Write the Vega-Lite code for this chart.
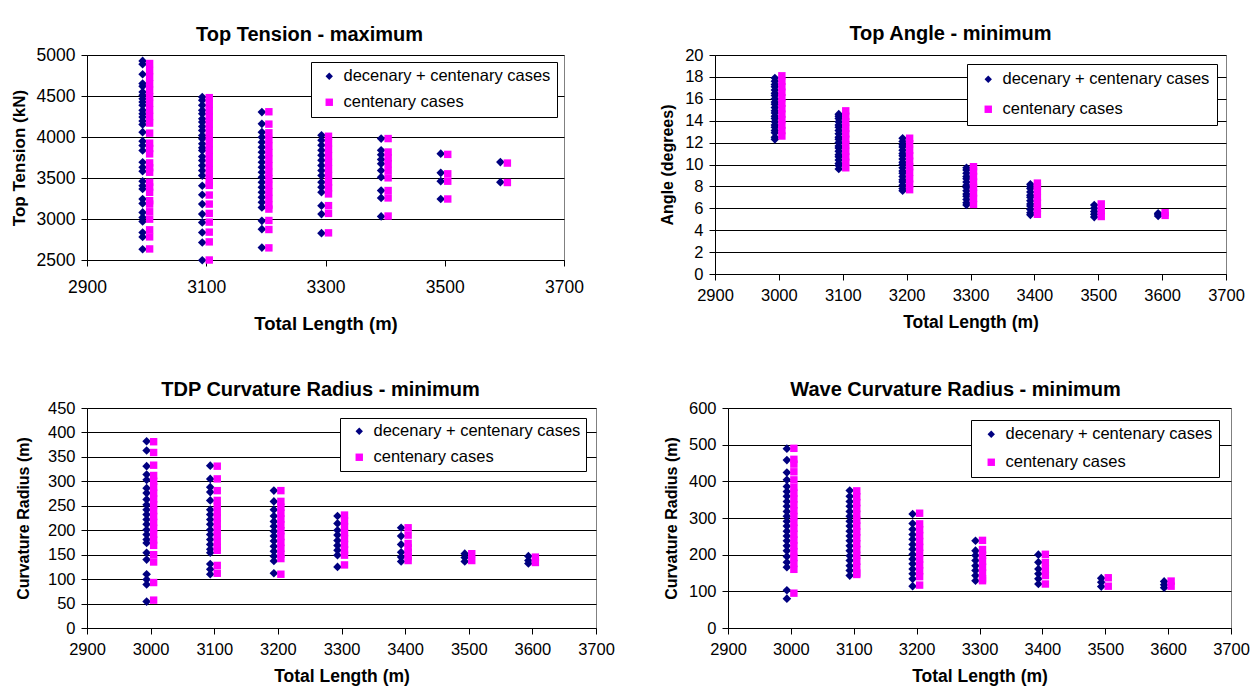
{
"$schema": "https://vega.github.io/schema/vega-lite/v6.json",
"background": "white",
"padding": {"left": 9, "top": 23, "right": 7, "bottom": 5},
"datasets": {
"tension": [
{"L":3000,"s":"dc","v":4928},{"L":3000,"s":"dc","v":4888},{"L":3000,"s":"dc","v":4765},{"L":3000,"s":"dc","v":4651},{"L":3000,"s":"dc","v":4618},{"L":3000,"s":"dc","v":4549},{"L":3000,"s":"dc","v":4508},{"L":3000,"s":"dc","v":4467},{"L":3000,"s":"dc","v":4427},{"L":3000,"s":"dc","v":4386},{"L":3000,"s":"dc","v":4325},{"L":3000,"s":"dc","v":4284},{"L":3000,"s":"dc","v":4243},{"L":3000,"s":"dc","v":4194},{"L":3000,"s":"dc","v":4153},{"L":3000,"s":"dc","v":4059},{"L":3000,"s":"dc","v":3949},{"L":3000,"s":"dc","v":3896},{"L":3000,"s":"dc","v":3835},{"L":3000,"s":"dc","v":3692},{"L":3000,"s":"dc","v":3631},{"L":3000,"s":"dc","v":3582},{"L":3000,"s":"dc","v":3460},{"L":3000,"s":"dc","v":3407},{"L":3000,"s":"dc","v":3366},{"L":3000,"s":"dc","v":3243},{"L":3000,"s":"dc","v":3190},{"L":3000,"s":"dc","v":3080},{"L":3000,"s":"dc","v":3019},{"L":3000,"s":"dc","v":2970},{"L":3000,"s":"dc","v":2835},{"L":3000,"s":"dc","v":2782},{"L":3000,"s":"dc","v":2631},
{"L":3000,"s":"c","v":4896},{"L":3000,"s":"c","v":4810},{"L":3000,"s":"c","v":4730},{"L":3000,"s":"c","v":4650},{"L":3000,"s":"c","v":4570},{"L":3000,"s":"c","v":4490},{"L":3000,"s":"c","v":4410},{"L":3000,"s":"c","v":4330},{"L":3000,"s":"c","v":4250},{"L":3000,"s":"c","v":4170},{"L":3000,"s":"c","v":4047},{"L":3000,"s":"c","v":3925},{"L":3000,"s":"c","v":3860},{"L":3000,"s":"c","v":3794},{"L":3000,"s":"c","v":3684},{"L":3000,"s":"c","v":3625},{"L":3000,"s":"c","v":3570},{"L":3000,"s":"c","v":3447},{"L":3000,"s":"c","v":3390},{"L":3000,"s":"c","v":3325},{"L":3000,"s":"c","v":3223},{"L":3000,"s":"c","v":3182},{"L":3000,"s":"c","v":3088},{"L":3000,"s":"c","v":2998},{"L":3000,"s":"c","v":2868},{"L":3000,"s":"c","v":2782},{"L":3000,"s":"c","v":2635},
{"L":3100,"s":"dc","v":4488},{"L":3100,"s":"dc","v":4447},{"L":3100,"s":"dc","v":4386},{"L":3100,"s":"dc","v":4325},{"L":3100,"s":"dc","v":4284},{"L":3100,"s":"dc","v":4223},{"L":3100,"s":"dc","v":4182},{"L":3100,"s":"dc","v":4129},{"L":3100,"s":"dc","v":4080},{"L":3100,"s":"dc","v":4019},{"L":3100,"s":"dc","v":3978},{"L":3100,"s":"dc","v":3917},{"L":3100,"s":"dc","v":3868},{"L":3100,"s":"dc","v":3835},{"L":3100,"s":"dc","v":3762},{"L":3100,"s":"dc","v":3713},{"L":3100,"s":"dc","v":3651},{"L":3100,"s":"dc","v":3590},{"L":3100,"s":"dc","v":3529},{"L":3100,"s":"dc","v":3406},{"L":3100,"s":"dc","v":3296},{"L":3100,"s":"dc","v":3182},{"L":3100,"s":"dc","v":3060},{"L":3100,"s":"dc","v":2958},{"L":3100,"s":"dc","v":2835},{"L":3100,"s":"dc","v":2713},{"L":3100,"s":"dc","v":2497},
{"L":3100,"s":"c","v":4480},{"L":3100,"s":"c","v":4400},{"L":3100,"s":"c","v":4320},{"L":3100,"s":"c","v":4240},{"L":3100,"s":"c","v":4160},{"L":3100,"s":"c","v":4080},{"L":3100,"s":"c","v":4000},{"L":3100,"s":"c","v":3920},{"L":3100,"s":"c","v":3840},{"L":3100,"s":"c","v":3760},{"L":3100,"s":"c","v":3680},{"L":3100,"s":"c","v":3600},{"L":3100,"s":"c","v":3520},{"L":3100,"s":"c","v":3440},{"L":3100,"s":"c","v":3410},{"L":3100,"s":"c","v":3292},{"L":3100,"s":"c","v":3182},{"L":3100,"s":"c","v":3068},{"L":3100,"s":"c","v":2962},{"L":3100,"s":"c","v":2840},{"L":3100,"s":"c","v":2721},{"L":3100,"s":"c","v":2500},
{"L":3200,"s":"dc","v":4304},{"L":3200,"s":"dc","v":4161},{"L":3200,"s":"dc","v":4059},{"L":3200,"s":"dc","v":3998},{"L":3200,"s":"dc","v":3937},{"L":3200,"s":"dc","v":3876},{"L":3200,"s":"dc","v":3815},{"L":3200,"s":"dc","v":3753},{"L":3200,"s":"dc","v":3692},{"L":3200,"s":"dc","v":3631},{"L":3200,"s":"dc","v":3570},{"L":3200,"s":"dc","v":3509},{"L":3200,"s":"dc","v":3447},{"L":3200,"s":"dc","v":3386},{"L":3200,"s":"dc","v":3325},{"L":3200,"s":"dc","v":3264},{"L":3200,"s":"dc","v":3203},{"L":3200,"s":"dc","v":3141},{"L":3200,"s":"dc","v":2978},{"L":3200,"s":"dc","v":2876},{"L":3200,"s":"dc","v":2651},
{"L":3200,"s":"c","v":4308},{"L":3200,"s":"c","v":4157},{"L":3200,"s":"c","v":4051},{"L":3200,"s":"c","v":3970},{"L":3200,"s":"c","v":3890},{"L":3200,"s":"c","v":3810},{"L":3200,"s":"c","v":3730},{"L":3200,"s":"c","v":3650},{"L":3200,"s":"c","v":3570},{"L":3200,"s":"c","v":3490},{"L":3200,"s":"c","v":3410},{"L":3200,"s":"c","v":3330},{"L":3200,"s":"c","v":3250},{"L":3200,"s":"c","v":3170},{"L":3200,"s":"c","v":3121},{"L":3200,"s":"c","v":2982},{"L":3200,"s":"c","v":2872},{"L":3200,"s":"c","v":2648},
{"L":3300,"s":"dc","v":4021},{"L":3300,"s":"dc","v":3960},{"L":3300,"s":"dc","v":3899},{"L":3300,"s":"dc","v":3837},{"L":3300,"s":"dc","v":3776},{"L":3300,"s":"dc","v":3715},{"L":3300,"s":"dc","v":3653},{"L":3300,"s":"dc","v":3592},{"L":3300,"s":"dc","v":3531},{"L":3300,"s":"dc","v":3449},{"L":3300,"s":"dc","v":3388},{"L":3300,"s":"dc","v":3326},{"L":3300,"s":"dc","v":3163},{"L":3300,"s":"dc","v":3060},{"L":3300,"s":"dc","v":2827},
{"L":3300,"s":"c","v":4009},{"L":3300,"s":"c","v":3930},{"L":3300,"s":"c","v":3850},{"L":3300,"s":"c","v":3770},{"L":3300,"s":"c","v":3690},{"L":3300,"s":"c","v":3610},{"L":3300,"s":"c","v":3530},{"L":3300,"s":"c","v":3450},{"L":3300,"s":"c","v":3380},{"L":3300,"s":"c","v":3306},{"L":3300,"s":"c","v":3163},{"L":3300,"s":"c","v":3068},{"L":3300,"s":"c","v":2831},
{"L":3400,"s":"dc","v":3981},{"L":3400,"s":"dc","v":3837},{"L":3400,"s":"dc","v":3784},{"L":3400,"s":"dc","v":3727},{"L":3400,"s":"dc","v":3674},{"L":3400,"s":"dc","v":3592},{"L":3400,"s":"dc","v":3510},{"L":3400,"s":"dc","v":3347},{"L":3400,"s":"dc","v":3257},{"L":3400,"s":"dc","v":3032},
{"L":3400,"s":"c","v":3981},{"L":3400,"s":"c","v":3817},{"L":3400,"s":"c","v":3745},{"L":3400,"s":"c","v":3674},{"L":3400,"s":"c","v":3592},{"L":3400,"s":"c","v":3502},{"L":3400,"s":"c","v":3347},{"L":3400,"s":"c","v":3257},{"L":3400,"s":"c","v":3036},
{"L":3500,"s":"dc","v":3797},{"L":3500,"s":"dc","v":3563},{"L":3500,"s":"dc","v":3461},{"L":3500,"s":"dc","v":3244},
{"L":3500,"s":"c","v":3788},{"L":3500,"s":"c","v":3551},{"L":3500,"s":"c","v":3461},{"L":3500,"s":"c","v":3244},
{"L":3600,"s":"dc","v":3694},{"L":3600,"s":"dc","v":3449},
{"L":3600,"s":"c","v":3682},{"L":3600,"s":"c","v":3445}
],
"angle": [
{"L":3000,"s":"dc","v":12.3},{"L":3000,"s":"dc","v":12.5},{"L":3000,"s":"dc","v":12.9},{"L":3000,"s":"dc","v":13.1},{"L":3000,"s":"dc","v":13.4},{"L":3000,"s":"dc","v":13.6},{"L":3000,"s":"dc","v":13.9},{"L":3000,"s":"dc","v":14.2},{"L":3000,"s":"dc","v":14.4},{"L":3000,"s":"dc","v":14.7},{"L":3000,"s":"dc","v":14.9},{"L":3000,"s":"dc","v":15.2},{"L":3000,"s":"dc","v":15.5},{"L":3000,"s":"dc","v":15.7},{"L":3000,"s":"dc","v":16.0},{"L":3000,"s":"dc","v":16.3},{"L":3000,"s":"dc","v":16.5},{"L":3000,"s":"dc","v":16.8},{"L":3000,"s":"dc","v":17.1},{"L":3000,"s":"dc","v":17.3},{"L":3000,"s":"dc","v":17.6},{"L":3000,"s":"dc","v":17.9},
{"L":3000,"s":"c","v":12.6},{"L":3000,"s":"c","v":13.1},{"L":3000,"s":"c","v":13.6},{"L":3000,"s":"c","v":14.1},{"L":3000,"s":"c","v":14.6},{"L":3000,"s":"c","v":15.1},{"L":3000,"s":"c","v":15.6},{"L":3000,"s":"c","v":16.1},{"L":3000,"s":"c","v":16.6},{"L":3000,"s":"c","v":17.1},{"L":3000,"s":"c","v":17.6},{"L":3000,"s":"c","v":18.1},
{"L":3100,"s":"dc","v":9.6},{"L":3100,"s":"dc","v":9.9},{"L":3100,"s":"dc","v":10.1},{"L":3100,"s":"dc","v":10.4},{"L":3100,"s":"dc","v":10.7},{"L":3100,"s":"dc","v":10.9},{"L":3100,"s":"dc","v":11.2},{"L":3100,"s":"dc","v":11.5},{"L":3100,"s":"dc","v":11.7},{"L":3100,"s":"dc","v":12.0},{"L":3100,"s":"dc","v":12.3},{"L":3100,"s":"dc","v":12.5},{"L":3100,"s":"dc","v":12.8},{"L":3100,"s":"dc","v":13.1},{"L":3100,"s":"dc","v":13.4},{"L":3100,"s":"dc","v":13.6},{"L":3100,"s":"dc","v":13.9},{"L":3100,"s":"dc","v":14.2},{"L":3100,"s":"dc","v":14.4},{"L":3100,"s":"dc","v":14.6},
{"L":3100,"s":"c","v":9.7},{"L":3100,"s":"c","v":10.2},{"L":3100,"s":"c","v":10.7},{"L":3100,"s":"c","v":11.2},{"L":3100,"s":"c","v":11.8},{"L":3100,"s":"c","v":12.3},{"L":3100,"s":"c","v":12.8},{"L":3100,"s":"c","v":13.3},{"L":3100,"s":"c","v":13.9},{"L":3100,"s":"c","v":14.4},{"L":3100,"s":"c","v":14.9},
{"L":3200,"s":"dc","v":7.6},{"L":3200,"s":"dc","v":7.8},{"L":3200,"s":"dc","v":8.1},{"L":3200,"s":"dc","v":8.4},{"L":3200,"s":"dc","v":8.6},{"L":3200,"s":"dc","v":8.9},{"L":3200,"s":"dc","v":9.2},{"L":3200,"s":"dc","v":9.4},{"L":3200,"s":"dc","v":9.7},{"L":3200,"s":"dc","v":10.0},{"L":3200,"s":"dc","v":10.2},{"L":3200,"s":"dc","v":10.5},{"L":3200,"s":"dc","v":10.8},{"L":3200,"s":"dc","v":11.0},{"L":3200,"s":"dc","v":11.3},{"L":3200,"s":"dc","v":11.6},{"L":3200,"s":"dc","v":11.8},{"L":3200,"s":"dc","v":12.1},{"L":3200,"s":"dc","v":12.4},
{"L":3200,"s":"c","v":7.7},{"L":3200,"s":"c","v":8.2},{"L":3200,"s":"c","v":8.7},{"L":3200,"s":"c","v":9.3},{"L":3200,"s":"c","v":9.8},{"L":3200,"s":"c","v":10.3},{"L":3200,"s":"c","v":10.8},{"L":3200,"s":"c","v":11.3},{"L":3200,"s":"c","v":11.9},{"L":3200,"s":"c","v":12.4},
{"L":3300,"s":"dc","v":6.3},{"L":3300,"s":"dc","v":6.5},{"L":3300,"s":"dc","v":6.8},{"L":3300,"s":"dc","v":7.1},{"L":3300,"s":"dc","v":7.3},{"L":3300,"s":"dc","v":7.6},{"L":3300,"s":"dc","v":7.9},{"L":3300,"s":"dc","v":8.1},{"L":3300,"s":"dc","v":8.4},{"L":3300,"s":"dc","v":8.7},{"L":3300,"s":"dc","v":8.9},{"L":3300,"s":"dc","v":9.2},{"L":3300,"s":"dc","v":9.5},{"L":3300,"s":"dc","v":9.7},
{"L":3300,"s":"c","v":6.35},{"L":3300,"s":"c","v":6.9},{"L":3300,"s":"c","v":7.4},{"L":3300,"s":"c","v":7.9},{"L":3300,"s":"c","v":8.4},{"L":3300,"s":"c","v":8.9},{"L":3300,"s":"c","v":9.4},{"L":3300,"s":"c","v":9.8},
{"L":3400,"s":"dc","v":5.4},{"L":3400,"s":"dc","v":5.6},{"L":3400,"s":"dc","v":5.9},{"L":3400,"s":"dc","v":6.2},{"L":3400,"s":"dc","v":6.4},{"L":3400,"s":"dc","v":6.7},{"L":3400,"s":"dc","v":7.0},{"L":3400,"s":"dc","v":7.2},{"L":3400,"s":"dc","v":7.5},{"L":3400,"s":"dc","v":7.8},{"L":3400,"s":"dc","v":8.0},{"L":3400,"s":"dc","v":8.2},
{"L":3400,"s":"c","v":5.45},{"L":3400,"s":"c","v":6.0},{"L":3400,"s":"c","v":6.5},{"L":3400,"s":"c","v":7.0},{"L":3400,"s":"c","v":7.6},{"L":3400,"s":"c","v":8.0},{"L":3400,"s":"c","v":8.3},
{"L":3500,"s":"dc","v":5.2},{"L":3500,"s":"dc","v":5.45},{"L":3500,"s":"dc","v":5.7},{"L":3500,"s":"dc","v":6.0},{"L":3500,"s":"dc","v":6.3},
{"L":3500,"s":"c","v":5.25},{"L":3500,"s":"c","v":5.8},{"L":3500,"s":"c","v":6.4},
{"L":3600,"s":"dc","v":5.3},{"L":3600,"s":"dc","v":5.45},{"L":3600,"s":"dc","v":5.55},
{"L":3600,"s":"c","v":5.35},{"L":3600,"s":"c","v":5.6}
],
"tdp": [
{"L":3000,"s":"dc","v":382},{"L":3000,"s":"dc","v":363},{"L":3000,"s":"dc","v":331},{"L":3000,"s":"dc","v":314},{"L":3000,"s":"dc","v":303},{"L":3000,"s":"dc","v":286},{"L":3000,"s":"dc","v":276},{"L":3000,"s":"dc","v":263},{"L":3000,"s":"dc","v":252},{"L":3000,"s":"dc","v":242},{"L":3000,"s":"dc","v":232},{"L":3000,"s":"dc","v":222},{"L":3000,"s":"dc","v":212},{"L":3000,"s":"dc","v":201},{"L":3000,"s":"dc","v":191},{"L":3000,"s":"dc","v":181},{"L":3000,"s":"dc","v":174},{"L":3000,"s":"dc","v":154},{"L":3000,"s":"dc","v":140},{"L":3000,"s":"dc","v":110},{"L":3000,"s":"dc","v":99},{"L":3000,"s":"dc","v":89},{"L":3000,"s":"dc","v":54},
{"L":3000,"s":"c","v":381},{"L":3000,"s":"c","v":359},{"L":3000,"s":"c","v":333},{"L":3000,"s":"c","v":312},{"L":3000,"s":"c","v":300},{"L":3000,"s":"c","v":288},{"L":3000,"s":"c","v":276},{"L":3000,"s":"c","v":264},{"L":3000,"s":"c","v":252},{"L":3000,"s":"c","v":240},{"L":3000,"s":"c","v":228},{"L":3000,"s":"c","v":216},{"L":3000,"s":"c","v":204},{"L":3000,"s":"c","v":192},{"L":3000,"s":"c","v":180},{"L":3000,"s":"c","v":169},{"L":3000,"s":"c","v":150},{"L":3000,"s":"c","v":135},{"L":3000,"s":"c","v":93},{"L":3000,"s":"c","v":57},
{"L":3100,"s":"dc","v":332},{"L":3100,"s":"dc","v":305},{"L":3100,"s":"dc","v":288},{"L":3100,"s":"dc","v":278},{"L":3100,"s":"dc","v":261},{"L":3100,"s":"dc","v":242},{"L":3100,"s":"dc","v":232},{"L":3100,"s":"dc","v":222},{"L":3100,"s":"dc","v":212},{"L":3100,"s":"dc","v":201},{"L":3100,"s":"dc","v":191},{"L":3100,"s":"dc","v":181},{"L":3100,"s":"dc","v":171},{"L":3100,"s":"dc","v":161},{"L":3100,"s":"dc","v":154},{"L":3100,"s":"dc","v":131},{"L":3100,"s":"dc","v":120},{"L":3100,"s":"dc","v":110},
{"L":3100,"s":"c","v":331},{"L":3100,"s":"c","v":305},{"L":3100,"s":"c","v":281},{"L":3100,"s":"c","v":261},{"L":3100,"s":"c","v":249},{"L":3100,"s":"c","v":237},{"L":3100,"s":"c","v":225},{"L":3100,"s":"c","v":213},{"L":3100,"s":"c","v":201},{"L":3100,"s":"c","v":189},{"L":3100,"s":"c","v":177},{"L":3100,"s":"c","v":165},{"L":3100,"s":"c","v":159},{"L":3100,"s":"c","v":128},{"L":3100,"s":"c","v":112},
{"L":3200,"s":"dc","v":281},{"L":3200,"s":"dc","v":259},{"L":3200,"s":"dc","v":242},{"L":3200,"s":"dc","v":229},{"L":3200,"s":"dc","v":218},{"L":3200,"s":"dc","v":208},{"L":3200,"s":"dc","v":198},{"L":3200,"s":"dc","v":188},{"L":3200,"s":"dc","v":178},{"L":3200,"s":"dc","v":167},{"L":3200,"s":"dc","v":157},{"L":3200,"s":"dc","v":147},{"L":3200,"s":"dc","v":137},{"L":3200,"s":"dc","v":112},
{"L":3200,"s":"c","v":281},{"L":3200,"s":"c","v":259},{"L":3200,"s":"c","v":247},{"L":3200,"s":"c","v":235},{"L":3200,"s":"c","v":223},{"L":3200,"s":"c","v":211},{"L":3200,"s":"c","v":199},{"L":3200,"s":"c","v":187},{"L":3200,"s":"c","v":175},{"L":3200,"s":"c","v":163},{"L":3200,"s":"c","v":151},{"L":3200,"s":"c","v":142},{"L":3200,"s":"c","v":110},
{"L":3300,"s":"dc","v":229},{"L":3300,"s":"dc","v":214},{"L":3300,"s":"dc","v":200},{"L":3300,"s":"dc","v":190},{"L":3300,"s":"dc","v":179},{"L":3300,"s":"dc","v":169},{"L":3300,"s":"dc","v":159},{"L":3300,"s":"dc","v":149},{"L":3300,"s":"dc","v":125},
{"L":3300,"s":"c","v":231},{"L":3300,"s":"c","v":219},{"L":3300,"s":"c","v":207},{"L":3300,"s":"c","v":195},{"L":3300,"s":"c","v":183},{"L":3300,"s":"c","v":171},{"L":3300,"s":"c","v":160},{"L":3300,"s":"c","v":149},{"L":3300,"s":"c","v":129},
{"L":3400,"s":"dc","v":205},{"L":3400,"s":"dc","v":188},{"L":3400,"s":"dc","v":171},{"L":3400,"s":"dc","v":155},{"L":3400,"s":"dc","v":145},{"L":3400,"s":"dc","v":136},
{"L":3400,"s":"c","v":205},{"L":3400,"s":"c","v":190},{"L":3400,"s":"c","v":173},{"L":3400,"s":"c","v":164},{"L":3400,"s":"c","v":155},{"L":3400,"s":"c","v":146},{"L":3400,"s":"c","v":138},
{"L":3500,"s":"dc","v":152},{"L":3500,"s":"dc","v":144},{"L":3500,"s":"dc","v":136},
{"L":3500,"s":"c","v":152},{"L":3500,"s":"c","v":138},
{"L":3600,"s":"dc","v":147},{"L":3600,"s":"dc","v":138},{"L":3600,"s":"dc","v":132},
{"L":3600,"s":"c","v":145},{"L":3600,"s":"c","v":134}
],
"wave": [
{"L":3000,"s":"dc","v":489},{"L":3000,"s":"dc","v":458},{"L":3000,"s":"dc","v":424},{"L":3000,"s":"dc","v":404},{"L":3000,"s":"dc","v":386},{"L":3000,"s":"dc","v":372},{"L":3000,"s":"dc","v":359},{"L":3000,"s":"dc","v":345},{"L":3000,"s":"dc","v":332},{"L":3000,"s":"dc","v":318},{"L":3000,"s":"dc","v":305},{"L":3000,"s":"dc","v":291},{"L":3000,"s":"dc","v":278},{"L":3000,"s":"dc","v":264},{"L":3000,"s":"dc","v":251},{"L":3000,"s":"dc","v":238},{"L":3000,"s":"dc","v":224},{"L":3000,"s":"dc","v":211},{"L":3000,"s":"dc","v":195},{"L":3000,"s":"dc","v":179},{"L":3000,"s":"dc","v":166},{"L":3000,"s":"dc","v":103},{"L":3000,"s":"dc","v":80},
{"L":3000,"s":"c","v":490},{"L":3000,"s":"c","v":460},{"L":3000,"s":"c","v":447},{"L":3000,"s":"c","v":426},{"L":3000,"s":"c","v":404},{"L":3000,"s":"c","v":384},{"L":3000,"s":"c","v":368},{"L":3000,"s":"c","v":352},{"L":3000,"s":"c","v":336},{"L":3000,"s":"c","v":320},{"L":3000,"s":"c","v":304},{"L":3000,"s":"c","v":288},{"L":3000,"s":"c","v":272},{"L":3000,"s":"c","v":256},{"L":3000,"s":"c","v":240},{"L":3000,"s":"c","v":224},{"L":3000,"s":"c","v":208},{"L":3000,"s":"c","v":192},{"L":3000,"s":"c","v":176},{"L":3000,"s":"c","v":160},{"L":3000,"s":"c","v":95},
{"L":3100,"s":"dc","v":375},{"L":3100,"s":"dc","v":359},{"L":3100,"s":"dc","v":345},{"L":3100,"s":"dc","v":332},{"L":3100,"s":"dc","v":318},{"L":3100,"s":"dc","v":305},{"L":3100,"s":"dc","v":291},{"L":3100,"s":"dc","v":278},{"L":3100,"s":"dc","v":264},{"L":3100,"s":"dc","v":251},{"L":3100,"s":"dc","v":238},{"L":3100,"s":"dc","v":224},{"L":3100,"s":"dc","v":211},{"L":3100,"s":"dc","v":197},{"L":3100,"s":"dc","v":184},{"L":3100,"s":"dc","v":170},{"L":3100,"s":"dc","v":157},{"L":3100,"s":"dc","v":143},
{"L":3100,"s":"c","v":374},{"L":3100,"s":"c","v":358},{"L":3100,"s":"c","v":342},{"L":3100,"s":"c","v":326},{"L":3100,"s":"c","v":310},{"L":3100,"s":"c","v":294},{"L":3100,"s":"c","v":278},{"L":3100,"s":"c","v":262},{"L":3100,"s":"c","v":246},{"L":3100,"s":"c","v":230},{"L":3100,"s":"c","v":214},{"L":3100,"s":"c","v":198},{"L":3100,"s":"c","v":182},{"L":3100,"s":"c","v":166},{"L":3100,"s":"c","v":150},{"L":3100,"s":"c","v":146},
{"L":3200,"s":"dc","v":311},{"L":3200,"s":"dc","v":285},{"L":3200,"s":"dc","v":269},{"L":3200,"s":"dc","v":255},{"L":3200,"s":"dc","v":242},{"L":3200,"s":"dc","v":228},{"L":3200,"s":"dc","v":215},{"L":3200,"s":"dc","v":201},{"L":3200,"s":"dc","v":188},{"L":3200,"s":"dc","v":175},{"L":3200,"s":"dc","v":161},{"L":3200,"s":"dc","v":148},{"L":3200,"s":"dc","v":134},{"L":3200,"s":"dc","v":114},
{"L":3200,"s":"c","v":313},{"L":3200,"s":"c","v":284},{"L":3200,"s":"c","v":268},{"L":3200,"s":"c","v":252},{"L":3200,"s":"c","v":236},{"L":3200,"s":"c","v":220},{"L":3200,"s":"c","v":204},{"L":3200,"s":"c","v":188},{"L":3200,"s":"c","v":172},{"L":3200,"s":"c","v":156},{"L":3200,"s":"c","v":140},{"L":3200,"s":"c","v":117},
{"L":3300,"s":"dc","v":238},{"L":3300,"s":"dc","v":211},{"L":3300,"s":"dc","v":198},{"L":3300,"s":"dc","v":184},{"L":3300,"s":"dc","v":170},{"L":3300,"s":"dc","v":157},{"L":3300,"s":"dc","v":143},{"L":3300,"s":"dc","v":129},
{"L":3300,"s":"c","v":239},{"L":3300,"s":"c","v":214},{"L":3300,"s":"c","v":198},{"L":3300,"s":"c","v":182},{"L":3300,"s":"c","v":166},{"L":3300,"s":"c","v":150},{"L":3300,"s":"c","v":134},{"L":3300,"s":"c","v":129},
{"L":3400,"s":"dc","v":200},{"L":3400,"s":"dc","v":179},{"L":3400,"s":"dc","v":161},{"L":3400,"s":"dc","v":148},{"L":3400,"s":"dc","v":134},{"L":3400,"s":"dc","v":120},
{"L":3400,"s":"c","v":201},{"L":3400,"s":"c","v":179},{"L":3400,"s":"c","v":161},{"L":3400,"s":"c","v":143},{"L":3400,"s":"c","v":120},
{"L":3500,"s":"dc","v":136},{"L":3500,"s":"dc","v":125},{"L":3500,"s":"dc","v":113},
{"L":3500,"s":"c","v":137},{"L":3500,"s":"c","v":114},
{"L":3600,"s":"dc","v":127},{"L":3600,"s":"dc","v":118},{"L":3600,"s":"dc","v":110},
{"L":3600,"s":"c","v":128},{"L":3600,"s":"c","v":114}
]
},
"spacing": 45,
"resolve": {"scale": {"color": "independent", "shape": "independent"}, "legend": {"color": "independent", "shape": "independent"}},
"vconcat": [
{
"hconcat": [
{
"width": 477, "height": 205,
"title": {"text": "Top Tension - maximum", "dx": -16, "offset": 1},
"data": {"name": "tension"},
"encoding": {
"x": {"field": "L", "type": "quantitative", "scale": {"domain": [2900, 3700], "nice": false, "zero": false}, "axis": {"values": [2900, 3100, 3300, 3500, 3700], "format": "d", "title": "Total Length (m)", "labelPadding": 12, "titlePadding": 19, "labelFontSize": 17.5, "titleFontSize": 18.5}},
"y": {"field": "v", "type": "quantitative", "scale": {"domain": [2500, 5000], "nice": false, "zero": false}, "axis": {"values": [2500, 3000, 3500, 4000, 4500, 5000], "format": "d", "title": "Top Tension (kN)", "labelFontSize": 17.5, "titleFontSize": 17, "minExtent": 52, "maxExtent": 52, "titlePadding": 7}}
},
"layer": [
{"transform": [{"filter": "datum.s == 'dc'"}],
 "mark": {"type": "point", "filled": true, "size": 75, "opacity": 1, "strokeWidth": 0, "xOffset": -4},
 "encoding": {
  "color": {"datum": "decenary + centenary cases", "scale": {"domain": ["decenary + centenary cases", "centenary cases"], "range": ["#000080", "#ff00ff"]}, "legend": {"title": null, "orient": "top-right", "offset": 7, "fillColor": "white", "strokeColor": "black", "padding": 6, "symbolOffset": 4, "rowPadding": 9, "labelOffset": 6}},
  "shape": {"datum": "decenary + centenary cases", "scale": {"domain": ["decenary + centenary cases", "centenary cases"], "range": ["diamond", "square"]}}
 }},
{"transform": [{"filter": "datum.s == 'c'"}],
 "mark": {"type": "point", "filled": true, "size": 55, "opacity": 1, "strokeWidth": 0, "xOffset": 3},
 "encoding": {
  "color": {"datum": "centenary cases"},
  "shape": {"datum": "centenary cases"}
 }}
]
},
{
"width": 511, "height": 219,
"title": {"text": "Top Angle - minimum", "dx": -20, "offset": 3},
"data": {"name": "angle"},
"encoding": {
"x": {"field": "L", "type": "quantitative", "scale": {"domain": [2900, 3700], "nice": false, "zero": false}, "axis": {"values": [2900, 3000, 3100, 3200, 3300, 3400, 3500, 3600, 3700], "format": "d", "title": "Total Length (m)"}},
"y": {"field": "v", "type": "quantitative", "scale": {"domain": [0, 20], "nice": false}, "axis": {"values": [0, 2, 4, 6, 8, 10, 12, 14, 16, 18, 20], "format": "d", "title": "Angle (degrees)", "minExtent": 32, "maxExtent": 32, "titlePadding": 8}}
},
"layer": [
{"transform": [{"filter": "datum.s == 'dc'"}],
 "mark": {"type": "point", "filled": true, "size": 75, "opacity": 1, "strokeWidth": 0, "xOffset": -4},
 "encoding": {
  "color": {"datum": "decenary + centenary cases", "scale": {"domain": ["decenary + centenary cases", "centenary cases"], "range": ["#000080", "#ff00ff"]}, "legend": {"title": null, "orient": "top-right", "offset": 9, "fillColor": "white", "strokeColor": "black", "padding": 7, "symbolOffset": 6, "rowPadding": 13, "labelOffset": 6}},
  "shape": {"datum": "decenary + centenary cases", "scale": {"domain": ["decenary + centenary cases", "centenary cases"], "range": ["diamond", "square"]}}
 }},
{"transform": [{"filter": "datum.s == 'c'"}],
 "mark": {"type": "point", "filled": true, "size": 55, "opacity": 1, "strokeWidth": 0, "xOffset": 3},
 "encoding": {
  "color": {"datum": "centenary cases"},
  "shape": {"datum": "centenary cases"}
 }}
]
}
],
"spacing": 74,
"resolve": {"scale": {"color": "independent", "shape": "independent"}, "legend": {"color": "independent", "shape": "independent"}}
},
{
"hconcat": [
{
"width": 509, "height": 220,
"title": {"text": "TDP Curvature Radius - minimum", "dx": -21, "offset": 0},
"data": {"name": "tdp"},
"encoding": {
"x": {"field": "L", "type": "quantitative", "scale": {"domain": [2900, 3700], "nice": false, "zero": false}, "axis": {"values": [2900, 3000, 3100, 3200, 3300, 3400, 3500, 3600, 3700], "format": "d", "title": "Total Length (m)"}},
"y": {"field": "v", "type": "quantitative", "scale": {"domain": [0, 450], "nice": false}, "axis": {"values": [0, 50, 100, 150, 200, 250, 300, 350, 400, 450], "format": "d", "title": "Curvature Radius (m)", "minExtent": 40, "maxExtent": 40, "titlePadding": 16}}
},
"layer": [
{"transform": [{"filter": "datum.s == 'dc'"}],
 "mark": {"type": "point", "filled": true, "size": 75, "opacity": 1, "strokeWidth": 0, "xOffset": -4},
 "encoding": {
  "color": {"datum": "decenary + centenary cases", "scale": {"domain": ["decenary + centenary cases", "centenary cases"], "range": ["#000080", "#ff00ff"]}, "legend": {"title": null, "orient": "top-right", "offset": 10, "fillColor": "white", "strokeColor": "black", "padding": 5, "symbolOffset": 6, "rowPadding": 9, "labelOffset": 6}},
  "shape": {"datum": "decenary + centenary cases", "scale": {"domain": ["decenary + centenary cases", "centenary cases"], "range": ["diamond", "square"]}}
 }},
{"transform": [{"filter": "datum.s == 'c'"}],
 "mark": {"type": "point", "filled": true, "size": 55, "opacity": 1, "strokeWidth": 0, "xOffset": 3},
 "encoding": {
  "color": {"datum": "centenary cases"},
  "shape": {"datum": "centenary cases"}
 }}
]
},
{
"width": 503, "height": 220,
"title": {"text": "Wave Curvature Radius - minimum", "dx": -24, "offset": 0},
"data": {"name": "wave"},
"encoding": {
"x": {"field": "L", "type": "quantitative", "scale": {"domain": [2900, 3700], "nice": false, "zero": false}, "axis": {"values": [2900, 3000, 3100, 3200, 3300, 3400, 3500, 3600, 3700], "format": "d", "title": "Total Length (m)"}},
"y": {"field": "v", "type": "quantitative", "scale": {"domain": [0, 600], "nice": false}, "axis": {"values": [0, 100, 200, 300, 400, 500, 600], "format": "d", "title": "Curvature Radius (m)", "minExtent": 40, "maxExtent": 40, "titlePadding": 9}}
},
"layer": [
{"transform": [{"filter": "datum.s == 'dc'"}],
 "mark": {"type": "point", "filled": true, "size": 75, "opacity": 1, "strokeWidth": 0, "xOffset": -4},
 "encoding": {
  "color": {"datum": "decenary + centenary cases", "scale": {"domain": ["decenary + centenary cases", "centenary cases"], "range": ["#000080", "#ff00ff"]}, "legend": {"title": null, "orient": "top-right", "offset": 12, "fillColor": "white", "strokeColor": "black", "padding": 6, "symbolOffset": 6, "rowPadding": 11, "labelOffset": 6}},
  "shape": {"datum": "decenary + centenary cases", "scale": {"domain": ["decenary + centenary cases", "centenary cases"], "range": ["diamond", "square"]}}
 }},
{"transform": [{"filter": "datum.s == 'c'"}],
 "mark": {"type": "point", "filled": true, "size": 55, "opacity": 1, "strokeWidth": 0, "xOffset": 3},
 "encoding": {
  "color": {"datum": "centenary cases"},
  "shape": {"datum": "centenary cases"}
 }}
]
}
],
"spacing": 47,
"resolve": {"scale": {"color": "independent", "shape": "independent"}, "legend": {"color": "independent", "shape": "independent"}}
}
],
"config": {
"font": "Liberation Sans",
"view": {"stroke": "#808080", "strokeWidth": 1},
"title": {"font": "Liberation Sans", "fontSize": 20, "fontWeight": "bold", "color": "#000000", "anchor": "middle"},
"axis": {"labelFont": "Liberation Sans", "titleFont": "Liberation Sans", "labelFontSize": 16.5, "titleFontSize": 16, "titleFontWeight": "bold", "labelColor": "#000000", "titleColor": "#000000", "domainColor": "#000000", "domainWidth": 1, "tickColor": "#000000", "tickSize": 6, "tickWidth": 1, "labelPadding": 6, "gridColor": "#000000", "gridWidth": 1, "gridOpacity": 1, "labelFlush": false, "labelOverlap": false, "labelBound": false},
"axisX": {"grid": false, "labelPadding": 7, "titlePadding": 10, "titleFontSize": 17.5},
"axisY": {"grid": true},
"legend": {"labelFont": "Liberation Sans", "labelFontSize": 16.5, "labelColor": "#000000", "labelLimit": 400, "symbolSize": 55, "strokeWidth": 1}
}
}
